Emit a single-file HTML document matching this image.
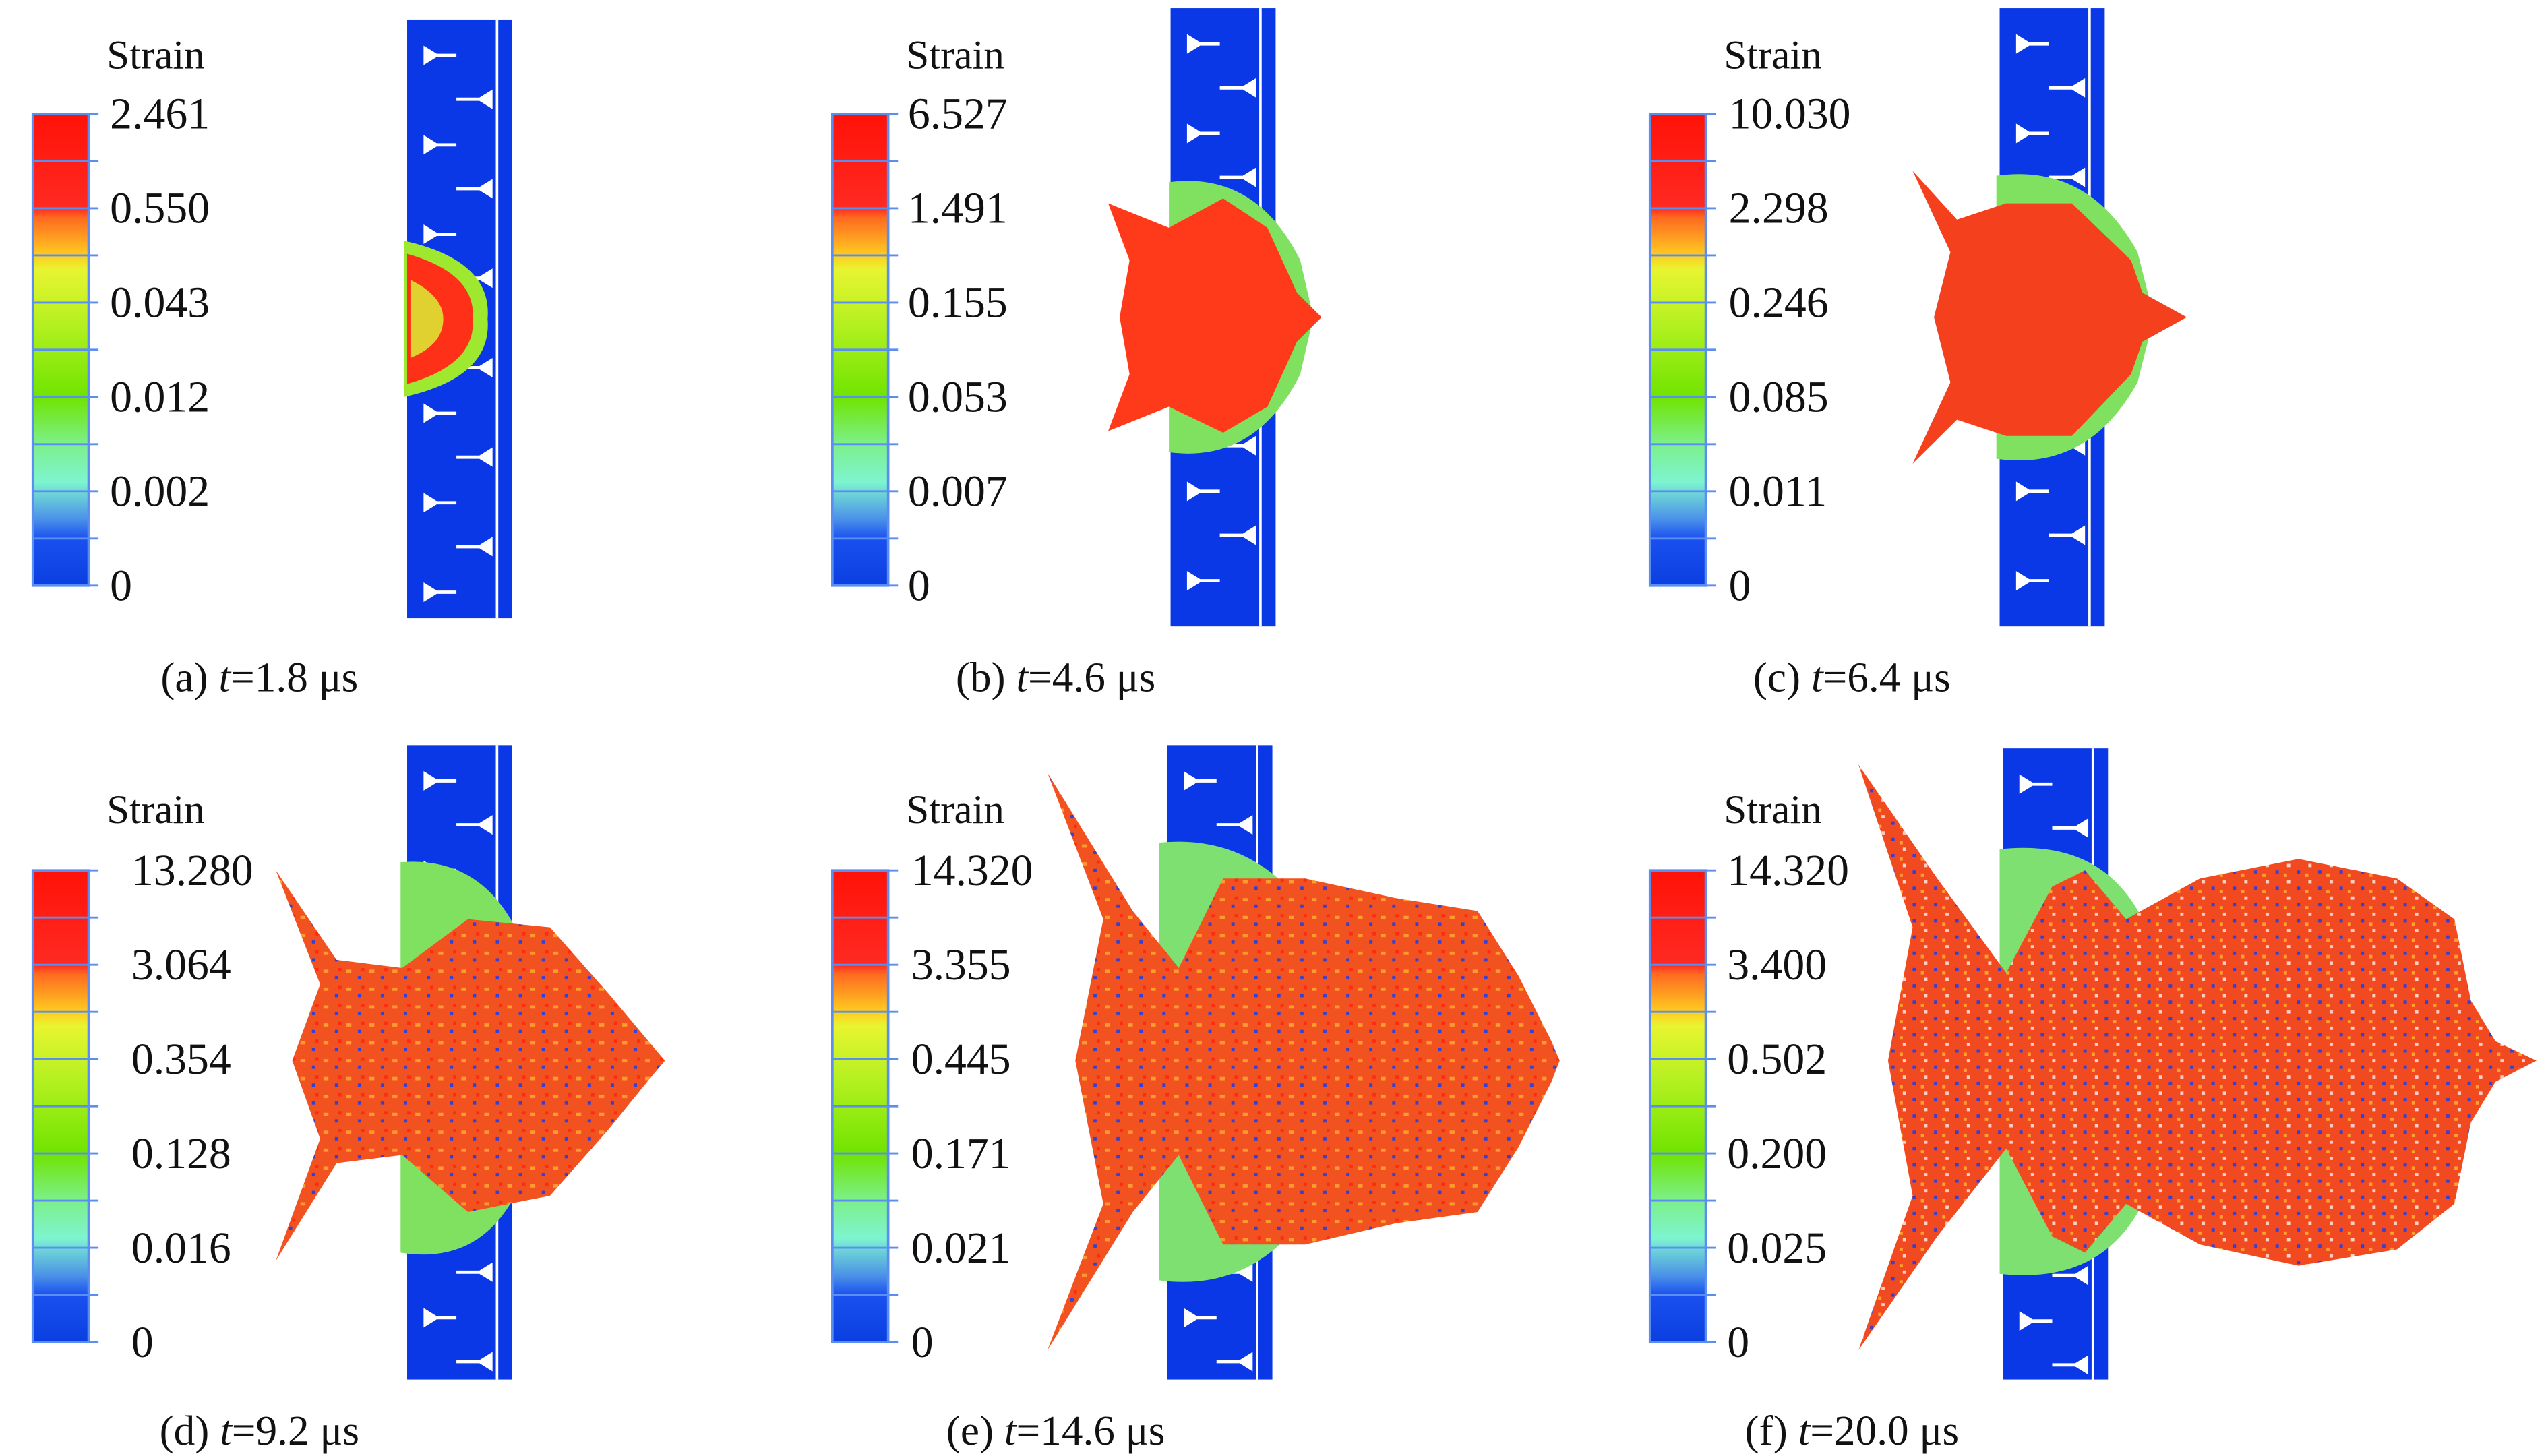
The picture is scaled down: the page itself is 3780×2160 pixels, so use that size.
<!DOCTYPE html>
<html><head><meta charset="utf-8"><style>
html,body{margin:0;padding:0;background:#fff;}
svg{display:block;}
svg text{font-family:"Liberation Serif","Times New Roman","DejaVu Serif",serif !important;}
</style></head><body>
<svg id="fig" width="3780" height="2160" viewBox="0 0 1552 895" preserveAspectRatio="none" xmlns="http://www.w3.org/2000/svg">
<defs>
<linearGradient id="cbar" x1="0" y1="0" x2="0" y2="1">
<stop offset="0" stop-color="#ff1208"/>
<stop offset="0.2" stop-color="#ff2a22"/>
<stop offset="0.22" stop-color="#ff6a20"/>
<stop offset="0.3" stop-color="#ffcc20"/>
<stop offset="0.33" stop-color="#e8f530"/>
<stop offset="0.45" stop-color="#b2f020"/>
<stop offset="0.6" stop-color="#70e400"/>
<stop offset="0.7" stop-color="#7cf08a"/>
<stop offset="0.78" stop-color="#7ef4d0"/>
<stop offset="0.86" stop-color="#4a90e8"/>
<stop offset="0.9" stop-color="#1a50f0"/>
<stop offset="1" stop-color="#0a3ee0"/>
</linearGradient>
<pattern id="speck" width="14" height="11" patternUnits="userSpaceOnUse">
<rect width="14" height="11" fill="#f25220"/>
<rect x="1" y="2" width="3" height="2" fill="#ff9a30"/>
<rect x="8" y="6" width="2" height="2" fill="#3040d8"/>
<rect x="10" y="1" width="2" height="2" fill="#ff2a10"/>
</pattern>
<pattern id="speck2" width="13" height="10" patternUnits="userSpaceOnUse">
<rect width="13" height="10" fill="#f24a20"/>
<rect x="2" y="1" width="2" height="2" fill="#ffd0c0"/>
<rect x="8" y="5" width="2" height="2" fill="#3040d8"/>
<rect x="0" y="7" width="2" height="2" fill="#ffa030"/>
</pattern>
</defs>
<g id="panels"></g>
</svg>
<script>
const panelLabels = ["(a)","(b)","(c)","(d)","(e)","(f)"];
const panelTimes = ["1.8","4.6","6.4","9.2","14.6","20.0"];
const ticksA = ["2.461","0.550","0.043","0.012","0.002","0"];
const ticksB = ["6.527","1.491","0.155","0.053","0.007","0"];
const ticksC = ["10.030","2.298","0.246","0.085","0.011","0"];
const ticksD = ["13.280","3.064","0.354","0.128","0.016","0"];
const ticksE = ["14.320","3.355","0.445","0.171","0.021","0"];
const ticksF = ["14.320","3.400","0.502","0.200","0.025","0"];
const allTicks=[ticksA,ticksB,ticksC,ticksD,ticksE,ticksF];
const NS="http://www.w3.org/2000/svg";
const root=document.getElementById('panels');
function mk(tag,attrs,parent){const e=document.createElementNS(NS,tag);for(const k in attrs)e.setAttribute(k,attrs[k]);(parent||root).appendChild(e);return e;}
const cbX=[20,507,1005], labX=[[67,553,1053],[80,555,1052]], plateX=[[248,713,1218],[248,711,1220]];
const cbTop=[70,535], strainY=[42,506], capY=[425,888], capX=[158,643,1128], plateY=[[12,380],[5,385],[5,385],[458,848],[458,848],[460,848]];
const FF='"Liberation Serif","Times New Roman",serif';
const shapes=[
 ['path',{d:'M246,148 Q300,160 297,196 Q300,232 246,244 Z',fill:'#9ee830'}],
 ['path',{d:'M248,156 Q290,168 288,196 Q290,224 248,236 Z',fill:'#ff3018'}],
 ['path',{d:'M250,172 Q270,182 270,196 Q270,212 250,220 Z',fill:'#e0d030'}],
 ['path',{d:'M712,112 Q765,105 792,160 L800,195 L792,230 Q765,285 712,278 Z',fill:'#80e060'}],
 ['path',{d:'M675,125 L712,140 L745,122 L772,140 L790,180 L805,195 L790,210 L772,250 L745,266 L712,250 L675,265 L688,230 L682,195 L688,160 Z',fill:'#ff3a1a'}],
 ['path',{d:'M1216,108 Q1272,100 1302,155 L1312,195 L1302,235 Q1272,290 1216,282 Z',fill:'#80e060'}],
 ['path',{d:'M1165,105 L1192,135 L1222,125 L1262,125 L1298,160 L1305,180 L1332,195 L1305,210 L1298,230 L1262,268 L1222,268 L1192,258 L1165,285 L1188,235 L1178,195 L1188,155 Z',fill:'#f4401c'}],
 ['path',{d:'M244,530 Q305,525 325,600 L330,652 L325,705 Q305,780 244,770 Z',fill:'#80e060'}],
 ['path',{d:'M168,535 L205,590 L245,595 L285,565 L335,570 L370,610 L395,640 L405,652 L395,664 L370,695 L335,735 L285,745 L245,710 L205,715 L168,775 L195,700 L178,652 L195,605 Z',fill:'url(#speck)'}],
 ['path',{d:'M706,518 Q765,512 800,565 L808,652 L800,740 Q765,795 706,787 Z',fill:'#7ee070'}],
 ['path',{d:'M638,475 L690,560 L718,595 L745,540 L795,540 L850,552 L900,560 L925,600 L945,640 L950,652 L945,665 L925,705 L900,745 L850,752 L795,765 L745,765 L718,710 L690,745 L638,830 L672,740 L655,652 L672,565 Z',fill:'url(#speck)'}],
 ['path',{d:'M1218,522 Q1280,515 1305,565 L1310,652 L1305,740 Q1280,790 1218,783 Z',fill:'#7ee070'}],
 ['path',{d:'M1132,470 L1180,540 L1222,598 L1250,545 L1270,535 L1295,565 L1340,540 L1400,528 L1460,540 L1495,565 L1505,615 L1520,640 L1545,652 L1520,665 L1505,690 L1495,740 L1460,768 L1400,778 L1340,765 L1295,740 L1270,770 L1250,760 L1222,706 L1180,760 L1132,830 L1165,735 L1150,652 L1165,570 Z',fill:'url(#speck2)'}]
];
const shapePanel=[0,0,0,1,1,2,2,3,3,4,4,5,5];
for(let i=0;i<6;i++){
  const r=Math.floor(i/3), c=i%3;
  const g=mk('g',{});
  
  
  const py=plateY[i], px=plateX[r][c];
  const pg=mk('g',{},g);
  
  
  mk('rect',{x:px,y:py[0],width:64,height:py[1]-py[0],fill:'#0a38e6'},pg);
  mk('rect',{x:px+54,y:py[0],width:1.5,height:py[1]-py[0],fill:'#fff'},pg);
  for(let yy=py[0]+22;yy<py[1]-10;yy+=55){
    mk('polygon',{points:`${px+10},${yy-6} ${px+18},${yy-1} ${px+30},${yy-1} ${px+30},${yy+1} ${px+18},${yy+1} ${px+10},${yy+6}`,fill:'#fff'},pg);
    const y2=yy+27; if(y2<py[1]-8)
    mk('polygon',{points:`${px+30},${y2-1} ${px+44},${y2-1} ${px+52},${y2-6} ${px+52},${y2+6} ${px+44},${y2+1} ${px+30},${y2+1}`,fill:'#fff'},pg);
  }
  shapes.forEach((s,k)=>{if(shapePanel[k]!==i)return;const e=mk(s[0],s[1],g);
    
    });
  const t=mk('text',{x:cbX[c]+45,y:strainY[r],'font-size':25,'font-family':FF,fill:'#111'},g);t.textContent='Strain';
  
  
  const y0=cbTop[r], h=290, x0=cbX[c];
  const cb=mk('rect',{x:x0,y:y0,width:34,height:h,fill:'url(#cbar)',stroke:'#5a8ef0','stroke-width':1.5},g);
  
  
  const tk=allTicks[i], n=tk.length-1;
  for(let s=0;s<=2*n;s++){const yy=y0+h*s/(2*n);const l=mk('line',{x1:x0,x2:x0+40,y1:yy,y2:yy,stroke:'#5a8ef0','stroke-width':1.2},g);
    
    }
  tk.forEach((v,k)=>{const yy=y0+h*k/n;const tx=mk('text',{x:labX[r][c],y:yy+9,'font-size':27,'font-family':FF,fill:'#111'},g);tx.textContent=v;
    
    });
  const cap=mk('text',{x:capX[c],y:capY[r],'font-size':26,'text-anchor':'middle','font-family':FF,fill:'#111'},g);
  cap.appendChild(document.createTextNode(panelLabels[i]+' '));
  const ts=mk('tspan',{'font-style':'italic'},cap);ts.textContent='t';
  cap.appendChild(document.createTextNode('='+panelTimes[i]+' μs'));
  
  
}
</script>
</body></html>
